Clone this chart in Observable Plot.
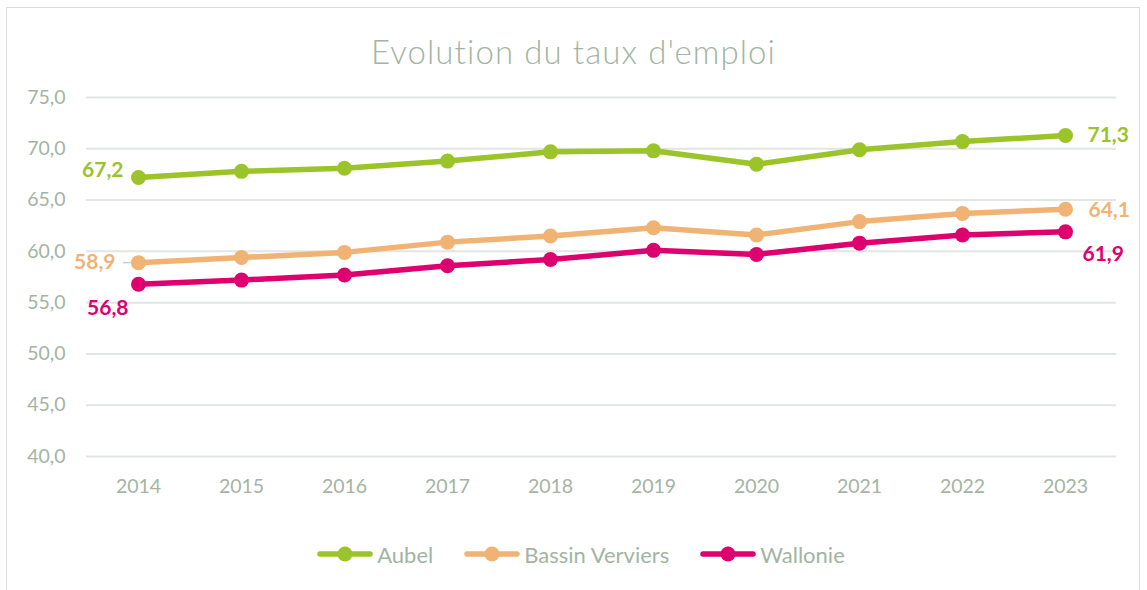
<!DOCTYPE html>
<html>
<head>
<meta charset="utf-8">
<script src="https://cdn.jsdelivr.net/npm/d3@7"></script>
<script src="https://cdn.jsdelivr.net/npm/@observablehq/plot@0.6"></script>
<style>
  html, body { margin: 0; padding: 0; background: #fff; }
  #frame { position: relative; width: 1147px; height: 590px; overflow: hidden; font-family: Lato, "Open Sans", sans-serif; }
  #border { position: absolute; left: 6px; top: 7px; width: 1134px; height: 600px; border: 1px solid #DADDDB; box-sizing: border-box; }
  #title { position: absolute; top: 31px; left: 0; width: 1147px; text-align: center; font-size: 33px; line-height: 40px; font-weight: 300; color: #A3B4A3; letter-spacing: 1.1px; }
  #chart { position: absolute; top: 80px; left: 0; }
  #legend { position: absolute; top: 539px; left: 0; width: 1147px; height: 30px; display: flex; justify-content: center; align-items: center; gap: 31px; font-size: 22px; color: #A3B4A3; padding-left: 15px; box-sizing: border-box; }
  .item { display: flex; align-items: center; gap: 4px; }
</style>
</head>
<body>
<div id="frame">
  <div id="border"></div>
  <div id="title">Evolution du taux d'emploi</div>
  <div id="chart"></div>
  <div id="legend"></div>
</div>
<script>
const years = ["2014","2015","2016","2017","2018","2019","2020","2021","2022","2023"];
const aubel = [67.2, 67.8, 68.1, 68.8, 69.7, 69.8, 68.5, 69.9, 70.7, 71.3];
const bassinVerviers = [58.9, 59.4, 59.9, 60.9, 61.5, 62.3, 61.6, 62.9, 63.7, 64.1];
const wallonie = [56.8, 57.2, 57.7, 58.6, 59.2, 60.1, 59.7, 60.8, 61.6, 61.9];
const seriesNames = ["Aubel", "Bassin Verviers", "Wallonie"];
const seriesColors = ["#9BC32A", "#F0B374", "#DE006F"];
const yTicks = [40, 45, 50, 55, 60, 65, 70, 75];

const seriesValues = [aubel, bassinVerviers, wallonie];
const data = [];
seriesNames.forEach((s, i) => years.forEach((yr, j) => data.push({series: s, year: yr, value: seriesValues[i][j]})));

const fmt = d => d.toFixed(1).replace(".", ",");
const textColor = "#A3B4A3";

// label offsets per series: [first dx, first dy], [last dx, last dy]
const labelOffsets = {
  "Aubel": {f: [-15, -7], l: [22, 0]},
  "Bassin Verviers": {f: [-23, 0], l: [23, 1]},
  "Wallonie": {f: [-10, 24], l: [17, 22]}
};

const labelMarks = [];
seriesNames.forEach((s, i) => {
  const rows = data.filter(d => d.series === s);
  const first = [rows[0]], last = [rows[rows.length - 1]];
  labelMarks.push(Plot.text(first, {x: "year", y: "value", text: d => fmt(d.value), fill: seriesColors[i], textAnchor: "end", dx: labelOffsets[s].f[0], dy: labelOffsets[s].f[1], fontSize: 21, fontWeight: "bold"}));
  labelMarks.push(Plot.text(last, {x: "year", y: "value", text: d => fmt(d.value), fill: seriesColors[i], textAnchor: "start", dx: labelOffsets[s].l[0], dy: labelOffsets[s].l[1], fontSize: 21, fontWeight: "bold"}));
});

// small leader line for Bassin Verviers first label
const bvFirst = data.filter(d => d.series === "Bassin Verviers").slice(0, 1);

const chart = Plot.plot({
  width: 1147,
  height: 440,
  marginLeft: 86,
  marginRight: 31,
  marginTop: 17,
  marginBottom: 64,
  style: {fontFamily: "Lato, 'Open Sans', sans-serif", background: "transparent"},
  x: {type: "point", domain: years, padding: 0.5, label: null},
  y: {domain: [40, 75], ticks: yTicks, label: null},
  color: {domain: seriesNames, range: seriesColors},
  marks: [
    Plot.gridY(yTicks, {stroke: "#E2E6E3", strokeOpacity: 1, strokeWidth: 2}),
    Plot.axisY(yTicks, {tickSize: 0, tickPadding: 21, tickFormat: fmt, fontSize: 19.5, fill: textColor, label: null}),
    Plot.axisX(years, {tickSize: 0, tickPadding: 23, fontSize: 19.5, fill: textColor, label: null}),
    Plot.ruleY(bvFirst, {x1: "year", x2: "year", y: "value", stroke: "#C9CFCA", strokeWidth: 1.5, insetLeft: -15, insetRight: 6}),
    Plot.line(data, {x: "year", y: "value", z: "series", stroke: "series", strokeWidth: 5.5, strokeLinejoin: "round", strokeLinecap: "round"}),
    Plot.dot(data, {x: "year", y: "value", fill: "series", r: 7.5, stroke: null}),
    ...labelMarks
  ]
});
document.getElementById("chart").appendChild(chart);

// legend
const legend = document.getElementById("legend");
seriesNames.forEach((s, i) => {
  const item = document.createElement("div");
  item.className = "item";
  item.innerHTML = `<svg width="56" height="20"><line x1="3" y1="10" x2="53" y2="10" stroke="${seriesColors[i]}" stroke-width="5.5" stroke-linecap="round"/><circle cx="28" cy="10" r="7.5" fill="${seriesColors[i]}"/></svg><span>${s}</span>`;
  legend.appendChild(item);
});
</script>
</body>
</html>
